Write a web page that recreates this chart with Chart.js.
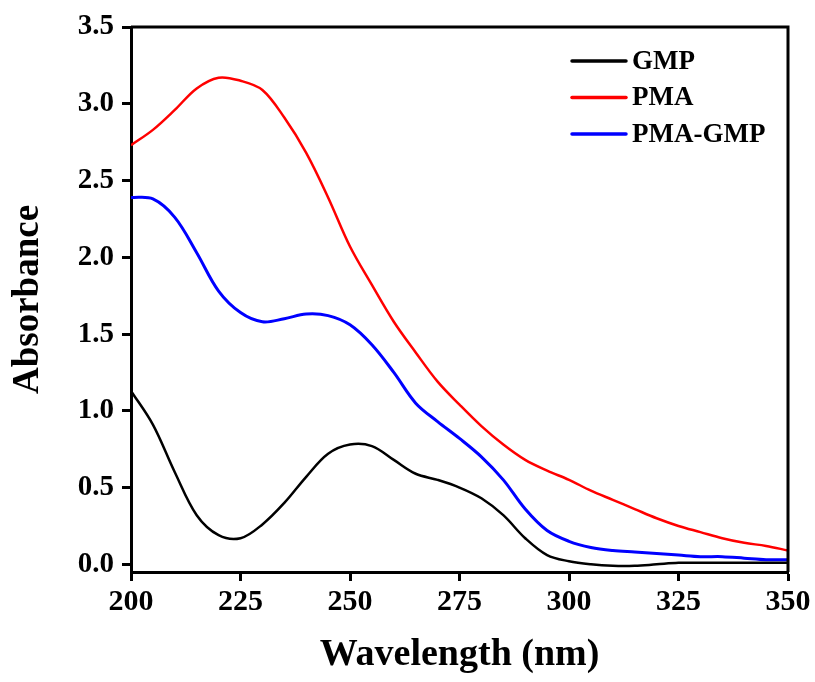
<!DOCTYPE html>
<html>
<head>
<meta charset="utf-8">
<script src="https://cdn.jsdelivr.net/npm/chart.js@4/dist/chart.umd.min.js"></script>
<style>
  html, body { margin: 0; padding: 0; background: #fff; }
  #wrap { width: 815px; height: 682px; }
</style>
</head>
<body>
<div id="wrap"><canvas id="uv-chart" width="815" height="682"></canvas></div>
<script>
// wavelength grid (nm)
var wavelengths = [200, 205, 210, 215, 220, 225, 230, 235, 240, 245, 250, 255, 260, 265, 270, 275,
  280, 285, 290, 295, 300, 305, 310, 315, 320, 325, 330, 335, 340, 345, 350];

var gmp = [1.13, 0.91, 0.60, 0.32, 0.19, 0.17, 0.26, 0.40, 0.57, 0.72, 0.78, 0.77, 0.68, 0.59, 0.55, 0.50,
  0.43, 0.32, 0.17, 0.06, 0.02, 0.00, -0.01, -0.01, 0.00, 0.01, 0.01, 0.01, 0.01, 0.01, 0.01];
var pma = [2.73, 2.83, 2.96, 3.10, 3.17, 3.15, 3.09, 2.91, 2.68, 2.39, 2.07, 1.82, 1.58, 1.38, 1.19, 1.04,
  0.90, 0.78, 0.68, 0.61, 0.55, 0.48, 0.42, 0.36, 0.30, 0.25, 0.21, 0.17, 0.14, 0.12, 0.09];
var pmaGmp = [2.39, 2.38, 2.26, 2.03, 1.78, 1.64, 1.58, 1.60, 1.63, 1.62, 1.56, 1.43, 1.25, 1.05, 0.93, 0.82,
  0.70, 0.55, 0.36, 0.22, 0.15, 0.11, 0.09, 0.08, 0.07, 0.06, 0.05, 0.05, 0.04, 0.03, 0.03];

var seriesNames = ["GMP", "PMA", "PMA-GMP"];
var xTicks = [200, 225, 250, 275, 300, 325, 350];
var yTicks = [0, 0.5, 1.0, 1.5, 2.0, 2.5, 3.0, 3.5];

var SERIF = "'Liberation Serif', 'Times New Roman', serif";

function pts(ys) {
  return wavelengths.map(function (x, i) { return { x: x, y: ys[i] }; });
}

// closes the box on top and right, and draws the legend inside the plot
var framePlugin = {
  id: "frame",
  afterDraw: function (chart) {
    var ctx = chart.ctx, a = chart.chartArea;
    ctx.save();
    ctx.strokeStyle = "#000";
    ctx.lineWidth = 3;
    ctx.beginPath();
    ctx.moveTo(a.left, a.top);
    ctx.lineTo(a.right, a.top);
    ctx.lineTo(a.right, a.bottom);
    ctx.stroke();

    // legend
    ctx.font = "bold 27px " + SERIF;
    ctx.textBaseline = "middle";
    ctx.textAlign = "left";
    chart.data.datasets.forEach(function (ds, i) {
      var y = 61 + i * 36.5;
      ctx.strokeStyle = ds.borderColor;
      ctx.lineWidth = 3.5;
      ctx.lineCap = "round";
      ctx.beginPath();
      ctx.moveTo(572, y);
      ctx.lineTo(626, y);
      ctx.stroke();
      ctx.fillStyle = "#000";
      ctx.fillText(ds.label, 632, y + 1);
    });
    ctx.restore();
  }
};

var config = {
  type: "line",
  data: {
    datasets: [
      { label: seriesNames[0], data: pts(gmp), borderColor: "#000000", borderWidth: 2.5 },
      { label: seriesNames[1], data: pts(pma), borderColor: "#ff0000", borderWidth: 2.5 },
      { label: seriesNames[2], data: pts(pmaGmp), borderColor: "#0000ff", borderWidth: 3 }
    ]
  },
  options: {
    responsive: false,
    animation: false,
    layout: { padding: { top: 27, right: 27, left: 0, bottom: 0 } },
    elements: {
      point: { radius: 0 },
      line: { tension: 0.35, fill: false }
    },
    plugins: {
      legend: { display: false },
      tooltip: { enabled: false }
    },
    scales: {
      x: {
        type: "linear",
        min: 200,
        max: 350,
        afterBuildTicks: function (scale) {
          scale.ticks = xTicks.map(function (v) { return { value: v }; });
        },
        afterFit: function (scale) { scale.height = 110; },
        border: { color: "#000", width: 3 },
        grid: { drawOnChartArea: false, tickLength: 9, tickWidth: 3, tickColor: "#000" },
        ticks: {
          color: "#000",
          padding: 3,
          maxRotation: 0,
          font: { family: SERIF, size: 30, weight: "bold" }
        },
        title: {
          display: true,
          text: "Wavelength (nm)",
          color: "#000",
          padding: { top: 0, bottom: 8 },
          font: { family: SERIF, size: 38, weight: "bold", lineHeight: 1 }
        }
      },
      y: {
        min: -0.05,
        max: 3.5,
        afterBuildTicks: function (scale) {
          scale.ticks = yTicks.map(function (v) { return { value: v }; });
        },
        afterFit: function (scale) { scale.width = 131; },
        border: { color: "#000", width: 3 },
        grid: { drawOnChartArea: false, tickLength: 9, tickWidth: 3, tickColor: "#000" },
        ticks: {
          color: "#000",
          padding: 8,
          font: { family: SERIF, size: 29, weight: "bold" },
          callback: function (v) { return Number(v).toFixed(1); }
        },
        title: {
          display: true,
          text: "Absorbance",
          color: "#000",
          padding: { top: 10, bottom: 0 },
          font: { family: SERIF, size: 37, weight: "bold", lineHeight: 1 }
        }
      }
    }
  },
  plugins: [framePlugin]
};

var ctx = document.getElementById("uv-chart").getContext("2d");
window.uvChart = new Chart(ctx, config);
</script>
</body>
</html>
